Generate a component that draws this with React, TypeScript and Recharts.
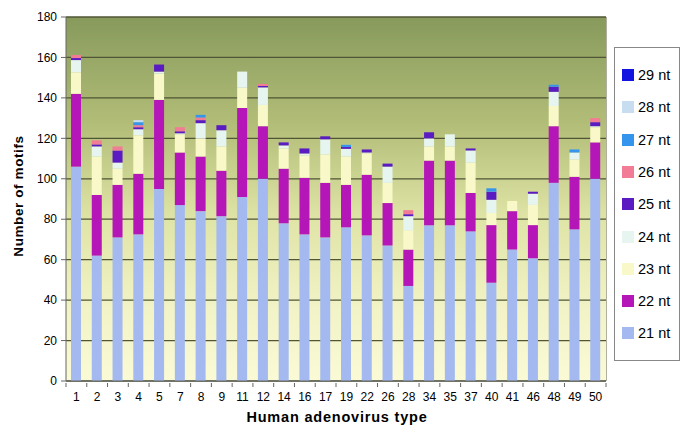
import React from 'react';
import { BarChart, Bar, XAxis, YAxis, CartesianGrid } from 'recharts';

const categories = ['1','2','3','4','5','7','8','9','11','12','14','16','17','19','22','26','28','34','35','37','40','41','46','48','49','50'];
const nt21 = [106,62,71,72.5,95,87,84,81.5,91,100,78,72.5,71,76,72,67,47,77,77,74,48.6,65,60.7,98,75,100];
const nt22 = [36,30,26,30,44,26,27,22.5,44,26,27,28,27,21,30,21,18,32,32,19,28.5,19,16.4,28,26,18];
const nt23 = [10.7,19,8,19,13,9,9,12,10,10.5,10,11,14,14,10.5,10,9.5,7,7,15,6,5,10,10,8.5,7.5];
const nt24 = [6,5,3,3,1,0.5,7.5,8,8,8.7,1.5,1,7.5,3.8,0.5,8,7,4,6,6,6.5,0,5.5,7,3.5,0.5];
const nt25 = [1,1,6,1,3.5,1,1.5,2.5,0,0.7,1.5,2.5,1.5,0.9,1.5,1.5,1,3,0,1,4,0,1,2.5,0,2];
const nt26 = [1.5,2,2,1,0,2,1.3,0,0,1,0,0,0,0,0,0,2,0,0,0,0,0,0,0,0,2];
const nt27 = [0,0,0,1.5,0,0,1.3,0,0,0,0,0,0,1.1,0,0,0,0,0,0,1.7,0,0,1,1.5,0];
const nt28 = [0,0,0,1,0,0,0,0,0,0,0,0,0,0,0,0,0,0,0,0,0,0,0,0,0,0];
const nt29 = [0,0,0,0,0,0,0,0,0,0,0,0,0,0,0,0,0,0,0,0,0,0,0,0,0,0];
const yTicks = [0,20,40,60,80,100,120,140,160,180];

const seriesNames = ['21 nt','22 nt','23 nt','24 nt','25 nt','26 nt','27 nt','28 nt','29 nt'];
const seriesValues = [nt21,nt22,nt23,nt24,nt25,nt26,nt27,nt28,nt29];
const seriesColors = ['#a3b9ef','#b416b8','#f8f8c8','#e6f5ef','#5a1cc2','#f27b95','#3595ec','#c9ddf0','#1414e0'];

const data = categories.map((c, i) => {
  const row: Record<string, string | number> = { type: c };
  seriesNames.forEach((n, k) => { row[n] = seriesValues[k][i]; });
  return row;
});

const font = 'Arial, "Liberation Sans", sans-serif';
const PLOT_W = 540;
const STEP = PLOT_W / categories.length;

const XTick = (props: any) => {
  const { x, y, payload, index } = props;
  const axisY = y - 6;
  const last = index === categories.length - 1;
  return (
    <g>
      <line x1={x - STEP / 2} x2={x - STEP / 2} y1={axisY} y2={axisY + 4} stroke="#666" />
      {last && <line x1={x + STEP / 2} x2={x + STEP / 2} y1={axisY} y2={axisY + 4} stroke="#666" />}
      <text x={x} y={y + 12} textAnchor="middle" fontSize={12} fill="#000" fontFamily={font}>{payload.value}</text>
    </g>
  );
};

export default function App() {
  return (
    <div style={{ position: 'absolute', left: 0, top: 0, width: 685, height: 437, background: '#fff', fontFamily: font }}>
      <BarChart width={685} height={437} data={data} margin={{ top: 17, right: 79, bottom: 26, left: 0 }} barSize={10}>
        <defs>
          <linearGradient id="bgGrad" x1="0" y1="0" x2="0" y2="1">
            <stop offset="0%" stopColor="#879a5c" />
            <stop offset="30%" stopColor="#b3be78" />
            <stop offset="55%" stopColor="#dfe4a6" />
            <stop offset="80%" stopColor="#f2f3c6" />
            <stop offset="100%" stopColor="#fafad6" />
          </linearGradient>
        </defs>
        <CartesianGrid vertical={false} stroke="#4f5535" strokeWidth={1.3} fill="url(#bgGrad)" fillOpacity={1} />
        <XAxis dataKey="type" height={30} tickLine={false} axisLine={{ stroke: '#666' }} tick={<XTick />} tickMargin={2} interval={0} />
        <YAxis width={66} domain={[0, 180]} ticks={yTicks} tickLine={{ stroke: '#666' }} tickSize={5} axisLine={{ stroke: '#666' }} tick={{ fontSize: 12, fill: '#000', fontFamily: font }} tickMargin={4} interval={0} />
        {seriesNames.map((n, k) => (
          <Bar key={n} dataKey={n} stackId="a" fill={seriesColors[k]} isAnimationActive={false} />
        ))}
      </BarChart>
      <div style={{ position: 'absolute', left: 606, top: 17, width: 1, height: 364, background: '#b0b0a0' }} />
      <div style={{ position: 'absolute', left: 18, top: 196, transform: 'translate(-50%, -50%) rotate(-90deg)', whiteSpace: 'nowrap', fontWeight: 'bold', fontSize: 13.5, letterSpacing: 0.6 }}>Number of motifs</div>
      <div style={{ position: 'absolute', left: 237, top: 409, width: 200, textAlign: 'center', fontWeight: 'bold', fontSize: 14.5, letterSpacing: 0.8, whiteSpace: 'nowrap' }}>Human adenovirus type</div>
      <div style={{ position: 'absolute', left: 614, top: 47, width: 64, height: 312, border: '1px solid #888', background: '#fff' }}>
        {seriesNames.slice().reverse().map((n, i) => {
          const k = seriesNames.length - 1 - i;
          return (
            <div key={n} style={{ position: 'absolute', left: 7, top: 20 + i * 32.3, display: 'flex', alignItems: 'center', height: 14 }}>
              <div style={{ width: 12, height: 12, background: seriesColors[k], marginRight: 4 }} />
              <span style={{ fontSize: 14.5, whiteSpace: 'nowrap' }}>{n}</span>
            </div>
          );
        })}
      </div>
    </div>
  );
}
